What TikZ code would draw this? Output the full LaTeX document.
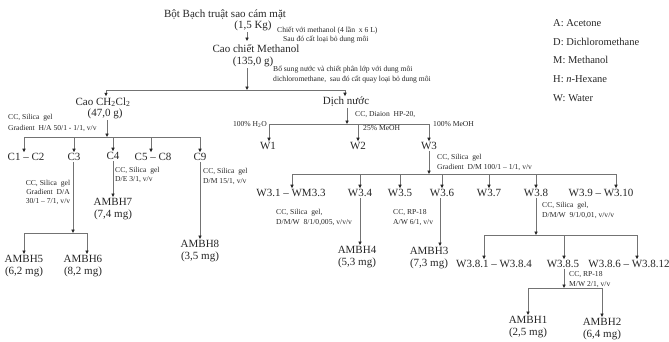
\documentclass[tikz,border=0pt]{standalone}
\usepackage{fontspec}
\setmainfont{Liberation Serif}
\usetikzlibrary{arrows.meta}
\begin{document}
\begin{tikzpicture}[x=1pt,y=-1pt,
  lbl/.style={font=\fontsize{11}{12}\selectfont, text=black!85, inner sep=1pt, align=center},
  note/.style={font=\fontsize{7.6}{9}\selectfont, text=black!85, inner sep=0pt, anchor=west},
  cnote/.style={font=\fontsize{7.6}{9}\selectfont, text=black!85, inner sep=0pt, align=center},
  leg/.style={font=\fontsize{10.5}{12}\selectfont, text=black!85, inner sep=0pt, anchor=west},
  ln/.style={draw=black!55, line width=0.7pt},
  arr/.style={ln, -{Triangle[length=3.4pt,width=3.2pt,color=black!85]}}]
\useasboundingbox (0,0) rectangle (669,341);

% ---- top
\node[lbl] (n0) at (225,15) {Bột Bạch truật sao cám mặt};
\node[lbl] (n0w) at (253,26) {(1,5 Kg)};
\node[note] (t1a) at (277,31) {Chiết với methanol (4 lần \ x 6 L)};
\node[note] (t1b) at (283,40) {Sau đó cất loại bỏ dung môi};
\node[lbl] (n1) at (256,49) {Cao chiết Methanol};
\node[lbl] (n1w) at (253,62) {(135,0 g)};
\coordinate (a1) at (247,41);
\draw[arr] (n0w.south -| a1) -- (a1);
\node[note] (t2a) at (273,70) {Bổ sung nước và chiết phân lớp với dung môi};
\node[note] (t2b) at (273,80) {dichloromethane, \ sau đó cất quay loại bỏ dung môi};
\coordinate (b1) at (247,90);
\coordinate (b1l) at (106,90);
\coordinate (b1r) at (345,90);
\draw[arr] (n1w.south -| b1) -- (b1);
\draw[ln] (b1l) -- (b1r);

% ---- CH2Cl2 branch
\node[lbl] (cao) at (103,102) {Cao CH\textsubscript{2}Cl\textsubscript{2}};
\node[lbl] (caow) at (105,114) {(47,0 g)};
\draw[arr] (b1l) -- (cao.north -| b1l);
\node[note] (t3a) at (8,118) {CC, Silica \ gel};
\node[note] (t3b) at (8,128) {Gradient \ H/A 50/1 - 1/1, v/v};
\coordinate (b2) at (107,137);
\coordinate (b2l) at (24,137);
\coordinate (b2r) at (200,137);
\draw[arr] (caow.south -| b2) -- (b2);
\draw[ln] (b2l) -- (b2r);
\node[lbl] (c12) at (26,157) {C1 -- C2};
\node[lbl] (c3) at (74,157) {C3};
\node[lbl] (c4) at (113,156) {C4};
\node[lbl] (c58) at (153,157) {C5 -- C8};
\node[lbl] (c9) at (200,157) {C9};
\coordinate (p12) at (24,137);
\coordinate (p3) at (74,137);
\coordinate (p4) at (113,137);
\coordinate (p58) at (151,137);
\coordinate (p9) at (200,137);
\draw[arr] (p12) -- (c12.north -| p12);
\draw[arr] (p3) -- (c3.north -| p3);
\draw[arr] (p4) -- (c4.north -| p4);
\draw[arr] (p58) -- (c58.north -| p58);
\draw[arr] (p9) -- (c9.north -| p9);

% C3
\node[cnote] (t4) at (48,192) {CC, Silica \ gel\\Gradient \ D/A\\30/1 -- 7/1, v/v};
\coordinate (b3) at (73,233);
\coordinate (b3l) at (24,233);
\coordinate (b3r) at (87,233);
\draw[arr] (c3.south -| b3) -- (b3);
\draw[ln] (b3l) -- (b3r);
\node[lbl] (m5) at (24,266) {AMBH5\\(6,2 mg)};
\node[lbl] (m6) at (83,266) {AMBH6\\(8,2 mg)};
\draw[arr] (b3l) -- (m5.north -| b3l);
\draw[arr] (b3r) -- (m6.north -| b3r);

% C4
\node[note] (t5a) at (115,171) {CC, Silica \ gel};
\node[note] (t5b) at (115,180) {D/E 3/1, v/v};
\node[lbl] (m7) at (113,209) {AMBH7\\(7,4 mg)};
\draw[arr] (c4.south) -- (m7.north);

% C9
\node[note] (t6a) at (203,172) {CC, Silica \ gel};
\node[note] (t6b) at (203,182) {D/M 15/1, v/v};
\node[lbl] (m8) at (200,251) {AMBH8\\(3,5 mg)};
\draw[arr] (c9.south) -- (m8.north);

% ---- water branch
\node[lbl] (dich) at (346,102) {Dịch nước};
\draw[arr] (b1r) -- (dich.north -| b1r);
\node[note] (t7) at (355,115) {CC, Diaion \ HP-20,};
\coordinate (b4) at (347,124);
\coordinate (b4l) at (269,124);
\coordinate (b4m) at (358,124);
\coordinate (b4r) at (429,124);
\draw[arr] (dich.south -| b4) -- (b4);
\draw[ln] (b4l) -- (b4r);
\node[font=\fontsize{7.6}{9}\selectfont, text=black!85, inner sep=0pt, anchor=east] (t8) at (267,124) {100\% H\textsubscript{2}O};
\node[note] (t9) at (363,128) {25\% MeOH};
\node[note] (t10) at (433,124) {100\% MeOH};
\node[lbl] (w1) at (268,146) {W1};
\node[lbl] (w2) at (358,146) {W2};
\node[lbl] (w3) at (429,146) {W3};
\draw[arr] (b4l) -- (w1.north -| b4l);
\draw[arr] (b4m) -- (w2.north -| b4m);
\draw[arr] (b4r) -- (w3.north -| b4r);

% W3
\node[note] (t11a) at (437,158) {CC, Silica \ gel};
\node[note] (t11b) at (437,167) {Gradient \ D/M 100/1 -- 1/1, v/v};
\coordinate (b5) at (429,174);
\coordinate (b5l) at (292,174);
\coordinate (b5r) at (616,174);
\draw[arr] (w3.south -| b5) -- (b5);
\draw[ln] (b5l) -- (b5r);
\node[lbl] (w31) at (291,193) {W3.1 -- WM3.3};
\node[lbl] (w34) at (360,193) {W3.4};
\node[lbl] (w35) at (400,193) {W3.5};
\node[lbl] (w36) at (442,193) {W3.6};
\node[lbl] (w37) at (489,193) {W3.7};
\node[lbl] (w38) at (536,193) {W3.8};
\node[lbl] (w39) at (601,193) {W3.9 -- W3.10};
\coordinate (q1) at (292,174);
\coordinate (q4) at (360,174);
\coordinate (q5) at (400,174);
\coordinate (q6) at (442,174);
\coordinate (q7) at (489,174);
\coordinate (q8) at (536,174);
\coordinate (q9) at (616,174);
\draw[arr] (q1) -- (w31.north -| q1);
\draw[arr] (q4) -- (w34.north -| q4);
\draw[arr] (q5) -- (w35.north -| q5);
\draw[arr] (q6) -- (w36.north -| q6);
\draw[arr] (q7) -- (w37.north -| q7);
\draw[arr] (q8) -- (w38.north -| q8);
\draw[arr] (q9) -- (w39.north -| q9);

% W3.4
\node[note] (t12a) at (276,213) {CC, Silica \ gel,};
\node[note] (t12b) at (276,223) {D/M/W \ 8/1/0,005, v/v/v};
\node[lbl] (m4) at (357,257) {AMBH4\\(5,3 mg)};
\coordinate (r4) at (360,243);
\draw[arr] (w34.south -| r4) -- (m4.north -| r4);

% W3.6
\node[note] (t13a) at (393,213) {CC, RP-18};
\node[note] (t13b) at (393,223) {A/W 6/1, v/v};
\node[lbl] (m3) at (429,258) {AMBH3\\(7,3 mg)};
\coordinate (r6) at (440,243);
\draw[arr] (w36.south -| r6) -- (m3.north -| r6);

% W3.8
\node[note] (t14a) at (542,206) {CC, Silica \ gel,};
\node[note] (t14b) at (542,216) {D/M/W \ 9/1/0,01, v/v/v};
\coordinate (b6) at (536,235);
\coordinate (b6l) at (484,235);
\coordinate (b6m) at (564,235);
\coordinate (b6r) at (637,235);
\draw[arr] (w38.south -| b6) -- (b6);
\draw[ln] (b6l) -- (b6r);
\node[lbl] (w381) at (494,264) {W3.8.1 -- W3.8.4};
\node[lbl] (w385) at (563,264) {W3.8.5};
\node[lbl] (w386) at (629,264) {W3.8.6 -- W3.8.12};
\draw[arr] (b6l) -- (w381.north -| b6l);
\draw[arr] (b6m) -- (w385.north -| b6m);
\draw[arr] (b6r) -- (w386.north -| b6r);

% W3.8.5
\node[note] (t15a) at (569,275) {CC, RP-18};
\node[note] (t15b) at (569,285) {M/W 2/1, v/v};
\coordinate (b7) at (564,288);
\coordinate (b7l) at (528,288);
\coordinate (b7r) at (602,288);
\draw[arr] (w385.south -| b7) -- (b7);
\draw[ln] (b7l) -- (b7r);
\node[lbl] (m1) at (528,327) {AMBH1\\(2,5 mg)};
\node[lbl] (m2) at (602,329) {AMBH2\\(6,4 mg)};
\draw[arr] (b7l) -- (m1.north -| b7l);
\draw[arr] (b7r) -- (m2.north -| b7r);

% ---- legend
\node[leg] (l1) at (553,23) {A: Acetone};
\node[leg] (l2) at (553,42) {D: Dichloromethane};
\node[leg] (l3) at (553,60) {M: Methanol};
\node[leg] (l4) at (553,79) {H: \textit{n}-Hexane};
\node[leg] (l5) at (553,98) {W: Water};
\end{tikzpicture}
\end{document}
